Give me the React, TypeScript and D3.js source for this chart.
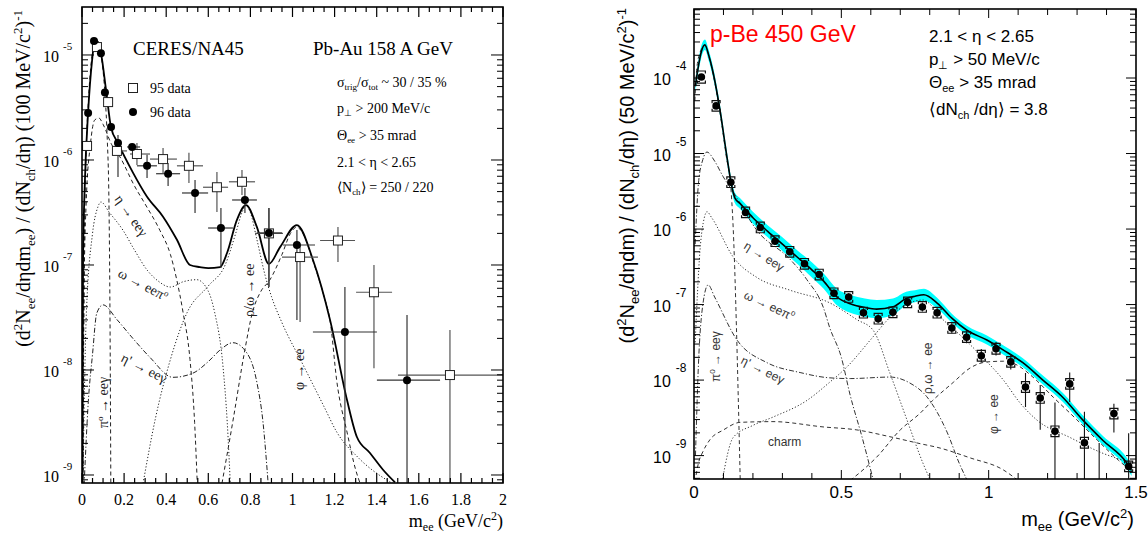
import React from "react";
import * as d3 from "d3";

// ================= LEFT PANEL: CERES/NA45 Pb-Au =================
const L_X = [0, 2];
const L_Y = [8.39e-10, 2.864e-5];
const L_XTICKS_MAJOR = [0, 0.2, 0.4, 0.6, 0.8, 1, 1.2, 1.4, 1.6, 1.8, 2];
const L_XTICK_LABELS = ["0", "0.2", "0.4", "0.6", "0.8", "1", "1.2", "1.4", "1.6", "1.8", "2"];
const L_YDECADES = [-9, -8, -7, -6, -5];

// 96 data (filled circles)
const m96 = [0.029, 0.057, 0.09, 0.109, 0.138, 0.171, 0.238, 0.309, 0.409, 0.537, 0.66, 0.774, 0.888, 1.021, 1.249, 1.544];
const v96 = [2.8e-6, 1.36e-5, 1.04e-5, 4.4e-6, 2.06e-6, 1.45e-6, 1.33e-6, 8.8e-7, 7.4e-7, 4.85e-7, 2.25e-7, 4.16e-7, 2.02e-7, 1.55e-7, 2.3e-8, 8.0e-9];
const m96Lo = [0.029, 0.057, 0.09, 0.109, 0.138, 0.171, 0.214, 0.261, 0.352, 0.475, 0.599, 0.713, 0.831, 0.955, 1.097, 1.401];
const m96Hi = [0.029, 0.057, 0.09, 0.109, 0.138, 0.171, 0.276, 0.356, 0.466, 0.599, 0.717, 0.831, 0.95, 1.107, 1.401, 1.701];
const v96Lo = [2.8e-6, 1.36e-5, 1.04e-5, 4.4e-6, 2.06e-6, 6.9e-7, 1.33e-6, 6.75e-7, 5.65e-7, 3.13e-7, 9.35e-8, 3.13e-7, 6.17e-8, 2.99e-8, 1e-10, 1e-10];
const v96Hi = [2.8e-6, 1.36e-5, 1.04e-5, 4.4e-6, 2.06e-6, 1.73e-6, 1.33e-6, 1.12e-6, 9.35e-7, 6.46e-7, 3.49e-7, 5.41e-7, 3.49e-7, 2.15e-7, 6.17e-8, 3.34e-8];

// 95 data (open squares)
const m95 = [0.024, 0.071, 0.124, 0.166, 0.261, 0.385, 0.508, 0.641, 0.76, 0.888, 1.036, 1.216, 1.387, 1.748];
const v95 = [1.36e-6, 1.19e-5, 3.56e-6, 1.22e-6, 1.14e-6, 1.02e-6, 8.8e-7, 5.5e-7, 6.2e-7, 2.0e-7, 1.19e-7, 1.71e-7, 5.5e-8, 8.95e-9];
const m95Lo = [0.024, 0.071, 0.124, 0.143, 0.228, 0.323, 0.451, 0.575, 0.698, 0.822, 0.95, 1.131, 1.302, 1.501];
const m95Hi = [0.024, 0.071, 0.124, 0.214, 0.323, 0.451, 0.575, 0.694, 0.822, 0.955, 1.121, 1.297, 1.473, 2.0];
const v95Lo = [1.36e-6, 1.19e-5, 3.56e-6, 1.22e-6, 8.95e-7, 7.52e-7, 6.04e-7, 3.2e-7, 4.65e-7, 6.2e-8, 2.86e-8, 1.07e-7, 1.04e-8, 1e-10];
const v95Hi = [1.36e-6, 1.19e-5, 3.56e-6, 1.22e-6, 1.45e-6, 1.3e-6, 1.17e-6, 7.7e-7, 8.04e-7, 3.49e-7, 1.55e-7, 2.3e-7, 1.0e-7, 2.4e-8];

// cocktail curves (log10 of yield)
const totL_m = [0.002, 0.005, 0.014, 0.029, 0.048, 0.062, 0.076, 0.09, 0.114, 0.138, 0.171, 0.242, 0.309, 0.385, 0.451, 0.513, 0.56, 0.6, 0.656, 0.689, 0.736, 0.779, 0.831, 0.888, 0.941, 1.021, 1.097, 1.178, 1.259, 1.306, 1.368, 1.43, 1.487];
const totL_lg = [-9.1, -6.95, -6.19, -5.55, -5.05, -4.857, -4.876, -4.98, -5.33, -5.69, -5.84, -6.12, -6.35, -6.54, -6.76, -7.0, -7.02, -7.03, -7.02, -6.886, -6.571, -6.43, -6.64, -6.99, -6.83, -6.62, -6.95, -7.52, -8.286, -8.638, -8.79, -8.95, -9.07];
const pi0L_m = [0.004, 0.01, 0.02, 0.03, 0.045, 0.06, 0.07, 0.08, 0.09, 0.1, 0.11, 0.12, 0.128, 0.133, 0.137];
const pi0L_lg = [-9.1, -7.0, -5.9, -5.45, -5.05, -4.9, -4.88, -4.92, -5.0, -5.15, -5.4, -5.8, -6.4, -7.5, -9.1];
const etaL_m = [0.004, 0.01, 0.02, 0.04, 0.06, 0.08, 0.1, 0.14, 0.18, 0.25, 0.3, 0.37, 0.42, 0.45, 0.48, 0.513, 0.535, 0.548];
const etaL_lg = [-9.1, -7.2, -6.4, -5.85, -5.62, -5.6, -5.66, -5.85, -5.97, -6.25, -6.42, -6.67, -6.9, -7.14, -7.45, -7.9, -8.5, -9.1];
const omgL_m = [0.004, 0.02, 0.05, 0.075, 0.09, 0.13, 0.195, 0.25, 0.31, 0.36, 0.42, 0.48, 0.545, 0.6, 0.63, 0.67, 0.69, 0.705];
const omgL_lg = [-9.1, -7.5, -6.7, -6.45, -6.4, -6.5, -6.67, -6.86, -7.05, -7.15, -7.21, -7.16, -7.14, -7.25, -7.45, -7.97, -8.5, -9.1];
const etapL_m = [0.01, 0.03, 0.05, 0.07, 0.1, 0.166, 0.242, 0.323, 0.432, 0.527, 0.6, 0.656, 0.717, 0.784, 0.831, 0.86, 0.885];
const etapL_lg = [-9.1, -8.3, -7.85, -7.46, -7.38, -7.52, -7.7, -7.88, -8.07, -8.03, -7.92, -7.81, -7.74, -7.84, -8.12, -8.5, -9.1];
const rhoL_m = [0.29, 0.35, 0.42, 0.5, 0.6, 0.68, 0.73, 0.76, 0.78, 0.8, 0.83, 0.87, 0.9, 0.95, 1.05, 1.15, 1.21, 1.31, 1.45, 1.55];
const rhoL_lg = [-9.08, -8.45, -7.9, -7.45, -7.2, -7.0, -6.7, -6.5, -6.43, -6.5, -6.75, -7.1, -7.3, -7.55, -7.95, -8.35, -8.59, -8.83, -9.05, -9.15];
const phiL_m = [0.665, 0.72, 0.77, 0.81, 0.85, 0.89, 0.95, 0.99, 1.02, 1.05, 1.1, 1.15, 1.18, 1.21, 1.26, 1.3, 1.325];
const phiL_lg = [-9.08, -8.45, -7.85, -7.45, -7.25, -7.15, -6.9, -6.7, -6.64, -6.7, -6.98, -7.3, -7.55, -8.1, -8.6, -8.95, -9.1];

// ================= RIGHT PANEL: p-Be 450 GeV =================
const R_X = [0, 1.5];
const R_Y = [4.9e-10, 8.2e-4];
const R_XTICK_LABELS = [["0", 0], ["0.5", 0.5], ["1", 1], ["1.5", 1.5]];
const R_YDECADES = [-9, -8, -7, -6, -5, -4];

const mR = [0.025, 0.075, 0.125, 0.175, 0.225, 0.275, 0.325, 0.375, 0.425, 0.475, 0.525, 0.575, 0.625, 0.675, 0.725, 0.775, 0.825, 0.875, 0.925, 0.975, 1.025, 1.075, 1.125, 1.175, 1.225, 1.275, 1.325, 1.375, 1.425, 1.475];
const vR = [1.03e-4, 4.27e-5, 4.17e-6, 1.66e-6, 1.05e-6, 6.9e-7, 5.0e-7, 3.47e-7, 2.5e-7, 1.41e-7, 1.26e-7, 7.8e-8, 6.5e-8, 7.9e-8, 1.07e-7, 9.3e-8, 7.8e-8, 4.9e-8, 3.7e-8, 2.1e-8, 2.6e-8, 1.74e-8, 8.1e-9, 5.8e-9, 2.1e-9, 8.9e-9, 1.48e-9, 2.5e-10, 3.6e-9, 7.2e-10];
// statistical errors (decades up / down)
const statUpR = [0.02, 0.02, 0.03, 0.03, 0.03, 0.03, 0.03, 0.04, 0.04, 0.05, 0.05, 0.06, 0.06, 0.06, 0.06, 0.06, 0.07, 0.07, 0.08, 0.09, 0.09, 0.1, 0.185, 0.17, 0.38, 0.15, 0.41, 0.77, 0.13, 0.44];
const statDnR = [0.02, 0.02, 0.03, 0.03, 0.03, 0.03, 0.03, 0.04, 0.04, 0.05, 0.05, 0.06, 0.06, 0.06, 0.06, 0.06, 0.07, 0.07, 0.08, 0.09, 0.09, 0.1, 0.265, 0.42, 3, 0.24, 3, 3, 0.25, 3];
// systematic errors (decades)
const sysR = [0.08, 0.07, 0.07, 0.07, 0.07, 0.07, 0.07, 0.07, 0.07, 0.07, 0.07, 0.07, 0.07, 0.07, 0.07, 0.07, 0.07, 0.07, 0.07, 0.07, 0.07, 0.07, 0.07, 0.07, 0.07, 0.07, 0.07, 0.07, 0.07, 0.07];

const totR_m = [0.005, 0.013, 0.025, 0.037, 0.05, 0.065, 0.088, 0.112, 0.126, 0.139, 0.156, 0.2, 0.25, 0.3, 0.35, 0.4, 0.44, 0.485, 0.53, 0.58, 0.62, 0.675, 0.72, 0.75, 0.78, 0.825, 0.875, 0.926, 0.994, 1.049, 1.116, 1.184, 1.252, 1.32, 1.388, 1.469, 1.485];
const totR_lg = [-4.1, -3.89, -3.65, -3.56, -3.7, -3.93, -4.42, -5.05, -5.39, -5.59, -5.66, -5.85, -6.03, -6.2, -6.37, -6.54, -6.69, -6.9, -6.99, -7.04, -7.06, -7.03, -6.92, -6.89, -6.87, -6.98, -7.18, -7.34, -7.47, -7.6, -7.77, -8.0, -8.23, -8.53, -8.8, -9.1, -9.2];
const bandR = [0.08, 0.08, 0.08, 0.07, 0.07, 0.07, 0.07, 0.07, 0.07, 0.07, 0.07, 0.08, 0.08, 0.09, 0.09, 0.1, 0.1, 0.11, 0.12, 0.12, 0.12, 0.11, 0.09, 0.08, 0.08, 0.07, 0.06, 0.06, 0.06, 0.06, 0.06, 0.06, 0.06, 0.06, 0.06, 0.07, 0.07];
const pi0R_m = [0.003, 0.01, 0.025, 0.037, 0.05, 0.065, 0.088, 0.11, 0.125, 0.132, 0.138, 0.144, 0.15, 0.157];
const pi0R_lg = [-4.3, -3.85, -3.62, -3.57, -3.7, -3.95, -4.45, -5.05, -5.45, -5.9, -6.5, -7.3, -8.2, -9.35];
const etaR_m = [0.004, 0.015, 0.03, 0.044, 0.07, 0.098, 0.133, 0.214, 0.326, 0.383, 0.44, 0.46, 0.5, 0.53, 0.57, 0.61];
const etaR_lg = [-6.2, -5.4, -5.08, -4.98, -5.1, -5.3, -5.51, -6.02, -6.4, -6.67, -7.05, -7.3, -7.7, -8.2, -8.75, -9.35];
const omgR_m = [0.004, 0.02, 0.035, 0.044, 0.06, 0.133, 0.213, 0.326, 0.462, 0.553, 0.608, 0.665, 0.723, 0.777, 0.805];
const omgR_lg = [-7.5, -6.3, -5.85, -5.77, -5.85, -6.37, -6.64, -6.81, -6.98, -7.2, -7.34, -7.91, -8.53, -9.1, -9.35];
const etapR_m = [0.005, 0.015, 0.03, 0.048, 0.07, 0.146, 0.248, 0.36, 0.46, 0.53, 0.665, 0.733, 0.79, 0.86, 0.9, 0.93];
const etapR_lg = [-9.0, -7.8, -7.0, -6.74, -6.9, -7.47, -7.77, -7.9, -7.97, -7.98, -7.96, -8.04, -8.22, -8.7, -9.1, -9.35];
const charmR_m = [0.003, 0.015, 0.03, 0.054, 0.1, 0.156, 0.268, 0.438, 0.553, 0.665, 0.777, 0.825, 0.937, 1.05, 1.1];
const charmR_lg = [-9.35, -9.1, -8.95, -8.79, -8.66, -8.56, -8.55, -8.62, -8.66, -8.75, -8.85, -8.89, -9.03, -9.19, -9.33];
const rhoR_m = [0.095, 0.133, 0.2, 0.268, 0.383, 0.46, 0.518, 0.607, 0.665, 0.72, 0.777, 0.845, 0.913, 0.98, 1.05, 1.106, 1.164, 1.276, 1.388, 1.49];
const rhoR_lg = [-9.35, -8.76, -8.6, -8.49, -8.27, -8.03, -7.83, -7.43, -7.17, -7.0, -6.94, -7.2, -7.44, -7.7, -8.0, -8.3, -8.53, -8.76, -8.97, -9.1];
const phiR_m = [0.53, 0.62, 0.7, 0.767, 0.81, 0.88, 0.937, 0.993, 1.05, 1.096, 1.15, 1.22, 1.29, 1.37, 1.44, 1.48];
const phiR_lg = [-9.33, -9.02, -8.66, -8.44, -8.27, -8.03, -7.84, -7.76, -7.75, -7.8, -7.96, -8.23, -8.49, -8.8, -9.06, -9.19];

const SERIF = "'Liberation Serif', 'Times New Roman', serif";
const SANS = "'Liberation Sans', Arial, Helvetica, sans-serif";
const DASH = "4,3";
const DOT = "1.2,2";
const DASHDOT = "5,2,1.2,2";

type Sc = (v: number) => number;

function curvePath(x: Sc, y: Sc, ms: number[], lg: number[]) {
  const pts = ms.map((m, i) => [x(m), y(Math.pow(10, lg[i]))] as [number, number]);
  return d3.line().curve(d3.curveMonotoneX)(pts) || "";
}

function minorLogTicks(dom: number[]) {
  const out: { v: number; major: boolean }[] = [];
  for (let e = -11; e <= -2; e++) {
    for (let k = 1; k <= 9; k++) {
      const v = k * Math.pow(10, e);
      if (v >= dom[0] && v <= dom[1]) out.push({ v, major: k === 1 });
    }
  }
  return out;
}

export default function App() {
  const xL = d3.scaleLinear().domain(L_X).range([82, 503]);
  const yL = d3.scaleLog().domain(L_Y).range([483, 7]);
  const xR = d3.scaleLinear().domain(R_X).range([694, 1136]);
  const yR = d3.scaleLog().domain(R_Y).range([479, 9]);

  const lx0 = xL(L_X[0]), lx1 = xL(L_X[1]), ly0 = yL(L_Y[0]), ly1 = yL(L_Y[1]);
  const rx0 = xR(R_X[0]), rx1 = xR(R_X[1]), ry0 = yR(R_Y[0]), ry1 = yR(R_Y[1]);

  const lXMinor = d3.range(0, 2.0001, 0.05);
  const rXMinor = d3.range(0, 1.5001, 0.1);
  const lYT = minorLogTicks(L_Y);
  const rYT = minorLogTicks(R_Y);

  const bandArea = d3
    .area<number>()
    .curve(d3.curveMonotoneX)
    .x((_, i) => xR(totR_m[i]))
    .y0((_, i) => yR(Math.pow(10, totR_lg[i] - bandR[i])))
    .y1((_, i) => yR(Math.pow(10, totR_lg[i] + bandR[i])));

  const cl = "#222";
  const cr = "#333";

  return (
    <svg width={1148} height={539} style={{ position: "absolute", left: 0, top: 0, background: "#fff" }}>
      <defs>
        <clipPath id="clipL">
          <rect x={lx0} y={ly1} width={lx1 - lx0} height={ly0 - ly1} />
        </clipPath>
        <clipPath id="clipR">
          <rect x={rx0} y={ry1} width={rx1 - rx0} height={ry0 - ry1} />
        </clipPath>
      </defs>
      <rect x={0} y={0} width={1148} height={539} fill="#fff" />

      {/* ================= LEFT PANEL ================= */}
      <g clipPath="url(#clipL)" fill="none" strokeWidth={1}>
        <path d={curvePath(xL, yL, pi0L_m, pi0L_lg)} stroke={cl} strokeDasharray={DASH} />
        <path d={curvePath(xL, yL, etaL_m, etaL_lg)} stroke={cl} strokeDasharray={DASH} />
        <path d={curvePath(xL, yL, omgL_m, omgL_lg)} stroke={cl} strokeDasharray={DOT} />
        <path d={curvePath(xL, yL, etapL_m, etapL_lg)} stroke={cl} strokeDasharray={DASHDOT} />
        <path d={curvePath(xL, yL, rhoL_m, rhoL_lg)} stroke={cl} strokeDasharray={DOT} />
        <path d={curvePath(xL, yL, phiL_m, phiL_lg)} stroke={cl} strokeDasharray={DASH} />
        <path d={curvePath(xL, yL, totL_m, totL_lg)} stroke="#000" strokeWidth={1.8} />
        {m95.map((m, i) => (
          <g key={"e95" + i} stroke="#555" strokeWidth={1.2}>
            <line x1={xL(m95Lo[i])} x2={xL(m95Hi[i])} y1={yL(v95[i])} y2={yL(v95[i])} />
            <line x1={xL(m)} x2={xL(m)} y1={yL(v95Lo[i])} y2={yL(v95Hi[i])} />
          </g>
        ))}
        {m96.map((m, i) => (
          <g key={"e96" + i} stroke="#333" strokeWidth={1.2}>
            <line x1={xL(m96Lo[i])} x2={xL(m96Hi[i])} y1={yL(v96[i])} y2={yL(v96[i])} />
            <line x1={xL(m)} x2={xL(m)} y1={yL(v96Lo[i])} y2={yL(v96Hi[i])} />
          </g>
        ))}
        {m95.map((m, i) => (
          <rect key={"s95" + i} x={xL(m) - 4.5} y={yL(v95[i]) - 4.5} width={9} height={9} fill="#fff" stroke="#222" strokeWidth={1} />
        ))}
        {m96.map((m, i) => (
          <circle key={"c96" + i} cx={xL(m)} cy={yL(v96[i])} r={4} fill="#000" stroke="none" />
        ))}
      </g>

      <g stroke="#000" fill="none">
        <rect x={lx0} y={ly1} width={lx1 - lx0} height={ly0 - ly1} strokeWidth={1.6} />
        {lXMinor.map((v, i) => {
          const len = i % 4 === 0 ? 10 : 5;
          return (
            <g key={"lxt" + i} strokeWidth={1.2}>
              <line x1={xL(v)} x2={xL(v)} y1={ly0} y2={ly0 - len} />
              <line x1={xL(v)} x2={xL(v)} y1={ly1} y2={ly1 + len} />
            </g>
          );
        })}
        {lYT.map((t, i) => {
          const len = t.major ? 12 : 6;
          return (
            <g key={"lyt" + i} strokeWidth={1}>
              <line x1={lx0} x2={lx0 + len} y1={yL(t.v)} y2={yL(t.v)} />
              <line x1={lx1} x2={lx1 - len} y1={yL(t.v)} y2={yL(t.v)} />
            </g>
          );
        })}
      </g>
      <g fontFamily={SERIF} fill="#000">
        {L_XTICKS_MAJOR.map((v, i) => (
          <text key={"lxl" + i} x={xL(v)} y={505} fontSize={16} textAnchor="middle">
            {L_XTICK_LABELS[i]}
          </text>
        ))}
        {L_YDECADES.map((e) => (
          <text key={"lyl" + e} x={43} y={yL(Math.pow(10, e)) + 7} fontSize={16}>
            10
            <tspan dx={4} dy={-12} fontSize={11}>{String(e)}</tspan>
          </text>
        ))}
        <text x={503} y={527} fontSize={18} textAnchor="end">
          m<tspan dy={4} fontSize={12}>ee</tspan>
          <tspan dy={-4}> (GeV/c</tspan>
          <tspan dy={-7} fontSize={12}>2</tspan>
          <tspan dy={7}>)</tspan>
        </text>
        <text transform="translate(30,10) rotate(-90)" fontSize={20} textAnchor="end">
          (d<tspan dy={-8} fontSize={13}>2</tspan>
          <tspan dy={8}>N</tspan>
          <tspan dy={5} fontSize={13}>ee</tspan>
          <tspan dy={-5}>/dηdm</tspan>
          <tspan dy={5} fontSize={13}>ee</tspan>
          <tspan dy={-5}>) / (dN</tspan>
          <tspan dy={5} fontSize={13}>ch</tspan>
          <tspan dy={-5}>/dη) (100 MeV/c</tspan>
          <tspan dy={-8} fontSize={13}>2</tspan>
          <tspan dy={8}>)</tspan>
          <tspan dy={-8} fontSize={13}>-1</tspan>
        </text>

        <text x={133} y={55} fontSize={19}>CERES/NA45</text>
        <text x={313} y={55} fontSize={19}>Pb-Au 158 A GeV</text>
        <g fontSize={14}>
          <text x={337} y={87}>
            σ<tspan dy={3} fontSize={9}>trig</tspan>
            <tspan dy={-3}>/σ</tspan>
            <tspan dy={3} fontSize={9}>tot</tspan>
            <tspan dy={-3}> ~ 30 / 35 %</tspan>
          </text>
          <text x={337} y={113}>
            p<tspan dy={3} fontSize={9}>⊥</tspan>
            <tspan dy={-3}> &gt; 200 MeV/c</tspan>
          </text>
          <text x={337} y={140}>
            Θ<tspan dy={3} fontSize={9}>ee</tspan>
            <tspan dy={-3}> &gt; 35 mrad</tspan>
          </text>
          <text x={337} y={167}>2.1 &lt; η &lt; 2.65</text>
          <text x={337} y={192}>
            ⟨N<tspan dy={3} fontSize={9}>ch</tspan>
            <tspan dy={-3}>⟩ = 250 / 220</tspan>
          </text>
          <rect x={128.5} y={83.5} width={9} height={9} fill="#fff" stroke="#222" />
          <text x={150} y={93}>95 data</text>
          <circle cx={133} cy={112} r={4} fill="#000" />
          <text x={150} y={117}>96 data</text>
        </g>
        <g fontSize={14} fill="#222">
          <text transform="translate(114,199) rotate(55)">η → eeγ</text>
          <text transform="translate(117,276) rotate(28)">
            ω → eeπ<tspan dy={-5} fontSize={9}>o</tspan>
          </text>
          <text transform="translate(120,361) rotate(27)">η' → eeγ</text>
          <text transform="translate(108,428) rotate(-90)">
            π<tspan dy={-5} fontSize={9}>o</tspan>
            <tspan dy={5}> → eeγ</tspan>
          </text>
          <text transform="translate(254,317) rotate(-90)">ρ/ω → ee</text>
          <text transform="translate(304,390) rotate(-90)">φ → ee</text>
        </g>
      </g>

      {/* ================= RIGHT PANEL ================= */}
      <g clipPath="url(#clipR)" fill="none" strokeWidth={1}>
        <path d={bandArea(totR_m) || ""} fill="#00ffff" stroke="none" />
        <path d={curvePath(xR, yR, pi0R_m, pi0R_lg)} stroke={cr} strokeDasharray={DASH} />
        <path d={curvePath(xR, yR, etaR_m, etaR_lg)} stroke={cr} strokeDasharray={DASHDOT} />
        <path d={curvePath(xR, yR, omgR_m, omgR_lg)} stroke={cr} strokeDasharray={DOT} />
        <path d={curvePath(xR, yR, etapR_m, etapR_lg)} stroke={cr} strokeDasharray={DASHDOT} />
        <path d={curvePath(xR, yR, charmR_m, charmR_lg)} stroke={cr} strokeDasharray={DASH} />
        <path d={curvePath(xR, yR, rhoR_m, rhoR_lg)} stroke={cr} strokeDasharray={DOT} />
        <path d={curvePath(xR, yR, phiR_m, phiR_lg)} stroke={cr} strokeDasharray={DASH} />
        <path d={curvePath(xR, yR, totR_m, totR_lg)} stroke="#000" strokeWidth={1.6} />
        {mR.map((m, i) => {
          const lv = Math.log10(vR[i]);
          const cx = xR(m);
          const yc = yR(vR[i]);
          const yt = yR(Math.pow(10, lv + sysR[i]));
          const yb = yR(Math.pow(10, lv - sysR[i]));
          const w = 4;
          return (
            <g key={"rp" + i} stroke="#111">
              <line x1={cx} x2={cx} y1={yR(Math.pow(10, lv + statUpR[i]))} y2={yR(Math.pow(10, lv - statDnR[i]))} strokeWidth={1.1} />
              <path d={`M${cx - w},${yt + 2.5}V${yt}H${cx + w}V${yt + 2.5}`} strokeWidth={1.2} />
              <path d={`M${cx - w},${yb - 2.5}V${yb}H${cx + w}V${yb - 2.5}`} strokeWidth={1.2} />
              <circle cx={cx} cy={yc} r={3.8} fill="#000" stroke="none" />
            </g>
          );
        })}
      </g>
      <g stroke="#000" fill="none">
        <rect x={rx0} y={ry1} width={rx1 - rx0} height={ry0 - ry1} strokeWidth={1.6} />
        {rXMinor.map((v, i) => {
          const len = i % 5 === 0 ? 9 : 6;
          return (
            <g key={"rxt" + i} strokeWidth={1}>
              <line x1={xR(v)} x2={xR(v)} y1={ry0} y2={ry0 - len} />
              <line x1={xR(v)} x2={xR(v)} y1={ry1} y2={ry1 + len} />
            </g>
          );
        })}
        {rYT.map((t, i) => {
          const len = t.major ? 10 : 6;
          return (
            <g key={"ryt" + i} strokeWidth={1}>
              <line x1={rx0} x2={rx0 + len} y1={yR(t.v)} y2={yR(t.v)} />
              <line x1={rx1} x2={rx1 - len} y1={yR(t.v)} y2={yR(t.v)} />
            </g>
          );
        })}
      </g>
      <g fontFamily={SANS} fill="#000">
        {R_XTICK_LABELS.map(([lab, v]) => (
          <text key={"rxl" + lab} x={xR(v as number)} y={498} fontSize={17} textAnchor="middle">
            {lab}
          </text>
        ))}
        {R_YDECADES.map((e) => (
          <text key={"ryl" + e} x={653} y={yR(Math.pow(10, e)) + 7} fontSize={16}>
            10
            <tspan dx={5} dy={-15} fontSize={12}>{String(e)}</tspan>
          </text>
        ))}
        <text x={1134} y={526} fontSize={20} textAnchor="end">
          m<tspan dy={5} fontSize={13}>ee</tspan>
          <tspan dy={-5}> (GeV/c</tspan>
          <tspan dy={-8} fontSize={13}>2</tspan>
          <tspan dy={8}>)</tspan>
        </text>
        <text transform="translate(634,8) rotate(-90)" fontSize={20} textAnchor="end">
          (d<tspan dy={-8} fontSize={13}>2</tspan>
          <tspan dy={8}>N</tspan>
          <tspan dy={5} fontSize={13}>ee</tspan>
          <tspan dy={-5}>/dηdm) / (dN</tspan>
          <tspan dy={5} fontSize={13}>ch</tspan>
          <tspan dy={-5}>/dη) (50 MeV/c</tspan>
          <tspan dy={-8} fontSize={13}>2</tspan>
          <tspan dy={8}>)</tspan>
          <tspan dy={-8} fontSize={13}>-1</tspan>
        </text>
        <text x={710} y={42} fontSize={23} fill="#ff0000">p-Be 450 GeV</text>
        <g fontSize={17}>
          <text x={929} y={42}>2.1 &lt; η &lt; 2.65</text>
          <text x={929} y={65}>
            p<tspan dy={4} fontSize={11}>⊥</tspan>
            <tspan dy={-4}> &gt; 50 MeV/c</tspan>
          </text>
          <text x={929} y={88}>
            Θ<tspan dy={4} fontSize={11}>ee</tspan>
            <tspan dy={-4}> &gt; 35 mrad</tspan>
          </text>
          <text x={929} y={115}>
            ⟨dN<tspan dy={4} fontSize={11}>ch</tspan>
            <tspan dy={-4}> /dη⟩ = 3.8</tspan>
          </text>
        </g>
        <g fontSize={12} fill="#333">
          <text transform="translate(743,248) rotate(32)">η → eeγ</text>
          <text transform="translate(743,298) rotate(25)">
            ω → eeπ<tspan dy={-5} fontSize={8}>o</tspan>
          </text>
          <text transform="translate(740,363) rotate(27)">η' → eeγ</text>
          <text transform="translate(720,382) rotate(-90)">
            π<tspan dy={-5} fontSize={8}>0</tspan>
            <tspan dy={5}> → eeγ</tspan>
          </text>
          <text x={768} y={446}>charm</text>
          <text transform="translate(932,394) rotate(-90)">ρ,ω → ee</text>
          <text transform="translate(998,434) rotate(-90)">φ → ee</text>
        </g>
      </g>
    </svg>
  );
}
